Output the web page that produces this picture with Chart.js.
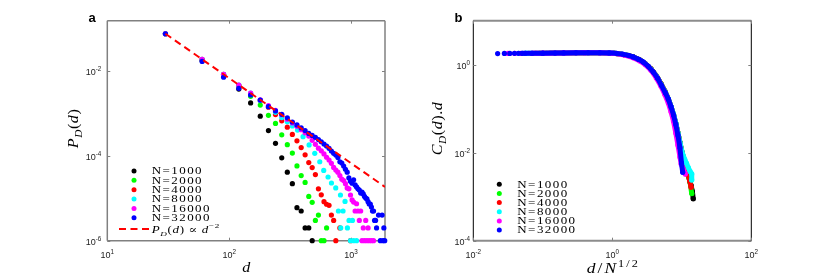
<!DOCTYPE html>
<html>
<head>
<meta charset="utf-8">
<script src="https://cdn.jsdelivr.net/npm/chart.js@4.4.1/dist/chart.umd.min.js"></script>
<style>
  body { margin: 0; background: #fff; }
  canvas { position: absolute; top: 0; }
  #chartA { left: 0; }
  #chartB { left: 415px; }
</style>
</head>
<body>
<canvas id="chartA" width="415" height="280"></canvas>
<canvas id="chartB" width="415" height="280"></canvas>
<script>
const N_LABELS = ['N=1000', 'N=2000', 'N=4000', 'N=8000', 'N=16000', 'N=32000'];

// panel a : P_D(d) against d
const D_1000 = [30,60,90,120,150,180,210,240,270,300,330,360,390,420,450,480];
const P_1000 = [7.4e-2,1.74e-2,7.6e-3,3.7e-3,1.74e-3,8.5e-4,3.9e-4,1.95e-4,8.9e-5,4.1e-5,2.2e-5,6e-6,5e-6,2e-6,2e-6,1e-6];

const D_2000 = [30,60,90,120,150,180,210,240,270,300,330,360,390,420,450,480,510,540,570,600,630];
const P_2000 = [7.4e-2,1.82e-2,8.1e-3,4.4e-3,2.5e-3,1.55e-3,8.9e-4,5.75e-4,3.1e-4,1.82e-4,1.15e-4,5.75e-5,3.4e-5,2.35e-5,1.1e-5,8e-6,3e-6,4e-6,1e-6,1e-6,2e-6];

const D_4000 = [30,60,90,120,150,180,210,240,270,300,330,360,390,420,450,480,510,540,570,600,630,660,690,720,750,810,990];
const P_4000 = [7.4e-2,1.85e-2,8.2e-3,4.5e-3,2.9e-3,2.0e-3,1.38e-3,9.3e-4,6.6e-4,4.7e-4,3.16e-4,2.24e-4,1.55e-4,1.05e-4,6.9e-5,5.25e-5,3.6e-5,1.66e-5,1.2e-5,8.3e-6,7.2e-6,6.8e-6,4e-6,3e-6,1e-6,2e-6,1e-6];

const D_8000 = [30,60,90,120,150,180,210,240,270,300,330,364,404,453,504,554,597,648,691,749,819,893,788,860,963,1027,823,934,990,1050,1110];
const P_8000 = [7.4e-2,1.85e-2,8.2e-3,4.6e-3,2.96e-3,2.0e-3,1.45e-3,1.05e-3,7.9e-4,6.3e-4,5.0e-4,4.0e-4,2.8e-4,1.79e-4,1.14e-4,7.2e-5,4.5e-5,3.15e-5,2.28e-5,1.74e-5,1.19e-5,8.4e-6,5e-6,5e-6,3e-6,3e-6,2e-6,2e-6,1e-6,1e-6,1e-6];

const D_16000 = [30,60,90,120,150,180,210,240,270,300,330,360,390,420,450,480,510,540,570,600,630,660,690,720,750,780,810,840,870,900,930,960,990,1020,1050,1080,1110,1140,1170,1200,1230,1260,1290,1320,1350,1380,1410,1470,1530];
const P_16000 = [7.4e-2,1.85e-2,8.2e-3,4.6e-3,2.96e-3,2.06e-3,1.51e-3,1.16e-3,9.2e-4,7.2e-4,5.9e-4,4.9e-4,4.1e-4,3.45e-4,2.9e-4,2.3e-4,1.85e-4,1.5e-4,1.3e-4,1.1e-4,9.2e-5,7.9e-5,6.6e-5,5.3e-5,4.6e-5,4.1e-5,3.4e-5,2.8e-5,2.6e-5,2.2e-5,1.74e-5,1.66e-5,1.19e-5,9.1e-6,8.1e-6,5e-6,7.4e-6,5e-6,3e-6,5e-6,1e-6,2e-6,1e-6,3e-6,1e-6,2e-6,1e-6,1e-6,1e-6];

const D_32000 = [30,60,90,120,150,180,210,240,270,300,330,360,390,420,450,480,510,540,570,600,630,660,690,720,750,780,810,840,870,900,930,960,990,1020,1050,1080,1110,1140,1170,1200,1230,1260,1290,1320,1350,1380,1410,1440,1470,1500,1530,1560,1590,1620,1680,1740,1800,1830,1860,1890];
const P_32000 = [7.4e-2,1.65e-2,7.0e-3,3.85e-3,2.68e-3,2.04e-3,1.42e-3,1.13e-3,9.4e-4,7.8e-4,6.2e-4,5.3e-4,4.5e-4,3.9e-4,3.35e-4,3.0e-4,2.7e-4,2.4e-4,2.13e-4,1.88e-4,1.69e-4,1.49e-4,1.29e-4,1.14e-4,1.04e-4,9.1e-5,7.2e-5,6.7e-5,5.7e-5,4.8e-5,4.1e-5,3.0e-5,2.5e-5,2.25e-5,2.7e-5,2.05e-5,1.84e-5,1.66e-5,1.56e-5,1.32e-5,1.4e-5,1.26e-5,1.1e-5,1.01e-5,9.6e-6,8.3e-6,7.3e-6,7.3e-6,6.2e-6,5e-6,5e-6,3e-6,3e-6,2e-6,4e-6,1e-6,4e-6,1e-6,2e-6,1e-6];

// reference line P_D(d) ~ d^-2
const REF_D = [30, 1900];
const REF_P = [7.4e-2, 1.845e-5];

// panel b : C_D(d).d against d/N^(1/2)
const X_1000 = [0.1265,0.158,0.2,0.4,0.66,1.0,1.5,2.0,2.5,3.0,3.6,4.3,5.0,5.7,6.4,7.0,7.6,8.2,8.8,9.4,10.0,10.8,11.6,12.4,13.1,13.6,14.2,14.6];
const Y_1000 = [1.81,1.82,1.84,1.86,1.87,1.85,1.69,1.50,1.28,1.05,0.80,0.56,0.37,0.25,0.165,0.11,0.073,0.046,0.028,0.017,0.0105,0.0068,0.0045,0.003,0.0022,0.0018,0.00132,0.0009];

const X_2000 = [0.0894,0.112,0.2,0.4,0.66,1.0,1.5,2.0,2.5,3.0,3.6,4.3,5.0,5.7,6.4,7.0,7.6,8.2,8.8,9.4,10.0,10.8,11.6,12.4,13.1,13.9];
const Y_2000 = [1.81,1.82,1.84,1.86,1.87,1.85,1.69,1.50,1.28,1.05,0.80,0.56,0.37,0.25,0.165,0.11,0.073,0.046,0.028,0.017,0.0105,0.0068,0.0044,0.003,0.0022,0.00118];

const X_4000 = [0.0632,0.0791,0.1,0.2,0.4,0.66,1.0,1.5,2.0,2.5,3.0,3.6,4.3,5.0,5.7,6.4,7.0,7.6,8.2,8.8,9.4,10.0,10.8,11.6,12.4,13.0,13.6];
const Y_4000 = [1.80,1.81,1.82,1.84,1.86,1.87,1.85,1.69,1.50,1.28,1.05,0.80,0.56,0.37,0.25,0.165,0.11,0.073,0.046,0.028,0.017,0.0105,0.0068,0.0045,0.0031,0.0023,0.00165];

const X_8000 = [0.0447,0.0559,0.07,0.1,0.2,0.4,0.66,1.0,1.5,2.0,2.5,3.0,3.6,4.3,5.0,5.7,6.4,7.0,7.6,8.2,8.8,9.4,10.0,10.3,11.0,11.7,12.4,13.1,13.9,13.9];
const Y_8000 = [1.80,1.81,1.81,1.82,1.84,1.86,1.87,1.85,1.69,1.48,1.26,1.03,0.78,0.55,0.36,0.245,0.165,0.112,0.075,0.047,0.028,0.017,0.011,0.0092,0.0071,0.0057,0.0046,0.0038,0.0033,0.0024];

const X_16000 = [0.0316,0.0395,0.0474,0.07,0.1,0.2,0.4,0.66,1.0,1.5,2.0,2.5,3.0,3.6,4.3,5.0,5.7,6.4,7.0,7.6,8.2,8.8,9.4,9.8,10.6,11.2];
const Y_16000 = [1.80,1.80,1.81,1.82,1.83,1.85,1.86,1.86,1.83,1.66,1.44,1.22,1.00,0.75,0.50,0.33,0.21,0.135,0.085,0.052,0.028,0.015,0.008,0.0055,0.0040,0.0033];

const X_32000 = [0.0224,0.0280,0.0335,0.0391,0.0447,0.0503,0.0559,0.07,0.1,0.15,0.2,0.3,0.45,0.66,0.9,1.15,1.4,1.7,2.0,2.4,2.8,3.3,3.9,4.5,5.1,5.8,6.4,7.0,7.6,8.2,8.8,9.4,9.9,10.3];
const Y_32000 = [1.79,1.80,1.80,1.81,1.81,1.81,1.82,1.82,1.83,1.84,1.85,1.86,1.87,1.87,1.85,1.81,1.74,1.63,1.50,1.32,1.15,0.92,0.68,0.49,0.34,0.23,0.165,0.11,0.072,0.044,0.025,0.013,0.0058,0.0036];

const A_X_TICKS = [10, 100, 1000];
const A_Y_TICKS = [1e-6, 1e-4, 1e-2];
const B_X_TICKS = [1e-2, 1, 100];
const B_Y_TICKS = [1e-4, 1e-2, 1];

const COLORS = ['#000000', '#00ff00', '#ff0000', '#00ffff', '#ff00ff', '#0000ff'];
const MATH_FONT = '"Liberation Serif", "DejaVu Serif", serif';
const SANS_FONT = '"Liberation Sans", Arial, sans-serif';

function toPoints(xs, ys) {
  return xs.map((x, i) => ({ x: x, y: ys[i] }));
}

// draws a run of math-ish text, returns its width
function mathText(ctx, parts, x, y, size, stretch, gap, draw) {
  let cx = 0;
  ctx.save();
  ctx.translate(x, y);
  ctx.scale(stretch, 1);
  ctx.textBaseline = 'alphabetic';
  ctx.textAlign = 'left';
  for (const p of parts) {
    const small = p.sub || p.sup;
    const s = small ? size * 0.7 : size;
    ctx.font = (p.it ? 'italic ' : '') + s + 'px ' + (p.sans ? SANS_FONT : MATH_FONT);
    const dy = p.sub ? size * 0.3 : (p.sup ? -size * 0.45 : 0);
    for (const ch of p.t) {
      if (draw !== false) ctx.fillText(ch, cx, dy);
      cx += ctx.measureText(ch).width + gap;
    }
  }
  ctx.restore();
  return (cx - gap) * stretch;
}

function tickLabel(v) {
  const e = Math.round(Math.log10(v));
  return [{ t: '10', sans: true }, { t: String(e), sans: true, sup: true }];
}

const decor = {
  id: 'decor',
  beforeDatasetsDraw(chart, args, o) {
    const ctx = chart.ctx, a = chart.chartArea;
    const xs = chart.scales.x, ys = chart.scales.y;
    ctx.save();
    o.frame.forEach(f => {
      ctx.strokeStyle = f.color;
      ctx.lineWidth = f.width;
      ctx.beginPath();
      if (f.side === 'left') { ctx.moveTo(a.left, a.top); ctx.lineTo(a.left, a.bottom); }
      if (f.side === 'right') { ctx.moveTo(a.right, a.top); ctx.lineTo(a.right, a.bottom); }
      if (f.side === 'top') { ctx.moveTo(a.left, a.top); ctx.lineTo(a.right, a.top); }
      if (f.side === 'bottom') { ctx.moveTo(a.left, a.bottom); ctx.lineTo(a.right, a.bottom); }
      ctx.stroke();
    });
    ctx.strokeStyle = o.tickColor;
    ctx.lineWidth = 1;
    o.xTicks.forEach(v => {
      const px = Math.round(xs.getPixelForValue(v)) + 0.5;
      ctx.beginPath();
      ctx.moveTo(px, a.bottom); ctx.lineTo(px, a.bottom - 3);
      ctx.moveTo(px, a.top); ctx.lineTo(px, a.top + 3);
      ctx.stroke();
    });
    o.yTicks.forEach(v => {
      const py = Math.round(ys.getPixelForValue(v)) + 0.5;
      ctx.beginPath();
      ctx.moveTo(a.left, py); ctx.lineTo(a.left + 3, py);
      ctx.moveTo(a.right, py); ctx.lineTo(a.right - 3, py);
      ctx.stroke();
    });
    ctx.restore();
  },
  afterDatasetsDraw(chart, args, o) {
    const ctx = chart.ctx, a = chart.chartArea;
    const xs = chart.scales.x, ys = chart.scales.y;
    ctx.save();
    ctx.fillStyle = '#222';
    o.xTicks.forEach(v => {
      const parts = tickLabel(v);
      const w = mathText(ctx, parts, 0, 0, 9, 1, 0, false);
      mathText(ctx, parts, xs.getPixelForValue(v) - w / 2, a.bottom + 17, 9, 1, 0);
    });
    o.yTicks.forEach(v => {
      const parts = tickLabel(v);
      const w = mathText(ctx, parts, 0, 0, 9, 1, 0, false);
      mathText(ctx, parts, a.left - o.yLabelGap - w, ys.getPixelForValue(v) + 4.5, 9, 1, 0);
    });
    ctx.fillStyle = '#000';
    // x title
    let w = mathText(ctx, o.xTitle, 0, 0, 14, o.titleStretch, o.titleGap, false);
    mathText(ctx, o.xTitle, (a.left + a.right) / 2 - w / 2, o.xTitleY, 14, o.titleStretch, o.titleGap);
    // y title
    ctx.save();
    ctx.translate(o.yTitleX, (a.top + a.bottom) / 2 - 2);
    ctx.rotate(-Math.PI / 2);
    w = mathText(ctx, o.yTitle, 0, 0, 14, 1.15, 0.5, false);
    mathText(ctx, o.yTitle, -w / 2, 0, 14, 1.15, 0.5);
    ctx.restore();
    // panel letter
    ctx.font = 'bold 13px ' + SANS_FONT;
    ctx.fillText(o.letter, o.letterX, 21.5);
    // legend
    const lg = o.legend;
    N_LABELS.forEach((lab, i) => {
      const y = lg.y0 + i * lg.dy;
      ctx.fillStyle = COLORS[i];
      ctx.beginPath();
      ctx.arc(lg.mx, y, 2.5, 0, Math.PI * 2);
      ctx.fill();
      ctx.fillStyle = '#000';
      mathText(ctx, [{ t: lab }], lg.tx, y + 3.4, 10, 1.3, 1.1);
    });
    if (lg.refLine) {
      const y = lg.y0 + 6 * lg.dy + 2;
      ctx.strokeStyle = '#ff0000';
      ctx.lineWidth = 2;
      ctx.setLineDash([7, 4.5]);
      ctx.beginPath();
      ctx.moveTo(lg.refLine[0], y); ctx.lineTo(lg.refLine[1], y);
      ctx.stroke();
      ctx.setLineDash([]);
      ctx.fillStyle = '#000';
      mathText(ctx, lg.refText, lg.tx, y + 3.4, 10, 1.3, 0.5);
    }
    ctx.restore();
  }
};

function logScales(xr, yr) {
  return {
    x: { type: 'logarithmic', min: xr[0], max: xr[1], display: false },
    y: { type: 'logarithmic', min: yr[0], max: yr[1], display: false }
  };
}

function buildA() {
  const series = [[D_1000, P_1000], [D_2000, P_2000], [D_4000, P_4000], [D_8000, P_8000], [D_16000, P_16000], [D_32000, P_32000]];
  const datasets = series.map((s, i) => ({
    label: N_LABELS[i],
    data: toPoints(s[0], s[1]),
    backgroundColor: COLORS[i],
    borderColor: COLORS[i],
    pointRadius: 2.6,
    pointBorderWidth: 0,
    showLine: false,
    clip: false,
    order: 6 - i
  }));
  datasets.push({
    label: 'ref',
    data: toPoints(REF_D, REF_P),
    showLine: true,
    borderColor: '#ff0000',
    borderWidth: 2,
    borderDash: [7, 4.5],
    pointRadius: 0,
    order: 0
  });
  return new Chart(document.getElementById('chartA'), {
    type: 'scatter',
    data: { datasets },
    options: {
      responsive: false,
      animation: false,
      layout: { padding: { left: 107.3, right: 30, top: 20.7, bottom: 39.3 } },
      scales: logScales([10, 1900], [1e-6, 0.15]),
      plugins: {
        legend: { display: false },
        tooltip: { enabled: false },
        decor: {
          frame: [
            { side: 'left', color: '#808080', width: 1.5 },
            { side: 'right', color: '#808080', width: 1.5 },
            { side: 'top', color: '#808080', width: 1.5 },
            { side: 'bottom', color: '#808080', width: 1.5 }
          ],
          tickColor: '#808080',
          xTicks: A_X_TICKS,
          yTicks: A_Y_TICKS,
          yLabelGap: 6,
          xTitle: [{ t: 'd', it: true }],
          xTitleY: 271.5,
          titleStretch: 1.15,
          titleGap: 0.5,
          yTitle: [{ t: 'P', it: true }, { t: 'D', it: true, sub: true }, { t: '(' }, { t: 'd', it: true }, { t: ')' }],
          yTitleX: 78,
          letter: 'a',
          letterX: 88.5,
          legend: {
            mx: 134, y0: 171, dy: 9.35, tx: 151.7,
            refLine: [119, 149.3],
            refText: [{ t: 'P', it: true }, { t: 'D', it: true, sub: true }, { t: '(' }, { t: 'd', it: true }, { t: ') \u221D ' }, { t: 'd', it: true }, { t: '\u22122', sup: true }]
          }
        }
      }
    },
    plugins: [decor]
  });
}

function buildB() {
  const series = [[X_1000, Y_1000], [X_2000, Y_2000], [X_4000, Y_4000], [X_8000, Y_8000], [X_16000, Y_16000], [X_32000, Y_32000]];
  const datasets = series.map((s, i) => ({
    label: N_LABELS[i],
    data: toPoints(s[0], s[1]),
    backgroundColor: COLORS[i],
    borderColor: COLORS[i],
    borderWidth: 5,
    borderJoinStyle: 'round',
    borderCapStyle: 'round',
    pointRadius: 2.6,
    pointBorderWidth: 0,
    showLine: true,
    clip: false,
    order: 6 - i,
    segment: {
      // separate dots at the small-x end, continuous band after
      borderColor: c => (s[0][c.p0DataIndex] < 0.05 ? 'rgba(0,0,0,0)' : COLORS[i])
    }
  }));
  return new Chart(document.getElementById('chartB'), {
    type: 'scatter',
    data: { datasets },
    options: {
      responsive: false,
      animation: false,
      layout: { padding: { left: 58.3, right: 78.7, top: 20.7, bottom: 39.3 } },
      scales: logScales([1e-2, 100], [1e-4, 10]),
      plugins: {
        legend: { display: false },
        tooltip: { enabled: false },
        decor: {
          frame: [
            { side: 'top', color: '#8c8c8c', width: 2 },
            { side: 'bottom', color: '#8c8c8c', width: 2 },
            { side: 'left', color: '#000000', width: 1 },
            { side: 'right', color: '#000000', width: 1 }
          ],
          tickColor: '#808080',
          xTicks: B_X_TICKS,
          yTicks: B_Y_TICKS,
          yLabelGap: 3.3,
          xTitle: [{ t: 'd', it: true }, { t: '/' }, { t: 'N', it: true }, { t: '1/2', sup: true }],
          xTitleY: 273,
          titleStretch: 1.25,
          titleGap: 1.6,
          yTitle: [{ t: 'C', it: true }, { t: 'D', it: true, sub: true }, { t: '(' }, { t: 'd', it: true }, { t: ')' }, { t: '.' }, { t: 'd', it: true }],
          yTitleX: 27,
          letter: 'b',
          letterX: 39.5,
          legend: { mx: 84.3, y0: 184.3, dy: 9.15, tx: 102.3 }
        }
      }
    },
    plugins: [decor]
  });
}

window.addEventListener('load', () => {
  buildA();
  buildB();
});
</script>
</body>
</html>
